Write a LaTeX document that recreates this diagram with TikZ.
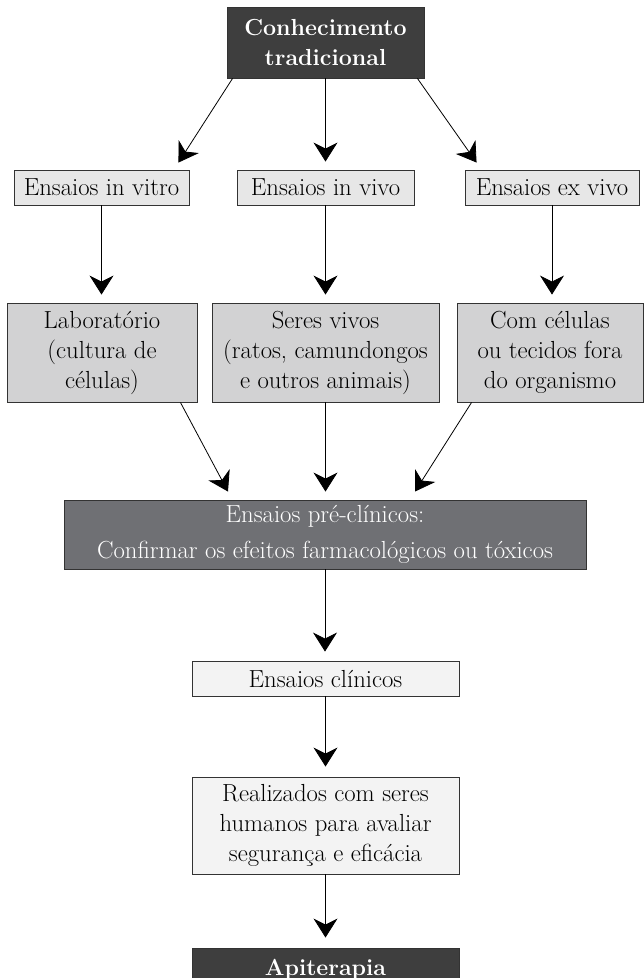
\documentclass[tikz,border=0pt]{standalone}
\usepackage{fontspec}
\usetikzlibrary{arrows.meta}
\definecolor{DarkBox}{HTML}{3E3E3E}
\definecolor{MidBox}{HTML}{6F7074}
\definecolor{PaleBox}{HTML}{E7E7E7}
\definecolor{GreyBox}{HTML}{D2D2D3}
\definecolor{WhiteBox}{HTML}{F3F3F3}
\definecolor{EdgeGrey}{HTML}{333333}
\tikzset{
    box/.style={draw=EdgeGrey, line width=0.9pt, inner sep=0pt, align=center,
        font=\fontsize{24.7}{30}\selectfont},
    darkbox/.style={box, fill=DarkBox, text=white, font=\fontsize{23.2}{30}\selectfont\bfseries},
    midbox/.style={box, fill=MidBox, text=white, font=\fontsize{24.7}{36}\selectfont},
    palebox/.style={box, fill=PaleBox},
    greybox/.style={box, fill=GreyBox},
    whitebox/.style={box, fill=WhiteBox},
    seta/.style={line width=0.8pt, -{Stealth[length=19pt,width=24pt,inset=6pt]}}
}

\begin{document}
\begin{tikzpicture}[x=1pt, y=-1pt]
        \useasboundingbox (0, 0) rectangle (644, 978);
        \clip (0, 0) rectangle (644, 978);

        \node[darkbox, minimum width=197pt, minimum height=71pt] (trad) at (325.5, 42.5) {Conhecimento\\tradicional};

        \node[palebox, minimum width=175pt, minimum height=35pt] (vitro) at (101.5, 187.5) {Ensaios in vitro};
        \node[palebox, minimum width=177pt, minimum height=35pt] (vivo) at (325.5, 187.5) {Ensaios in vivo};
        \node[palebox, minimum width=174pt, minimum height=35pt] (exvivo) at (552, 187.5) {Ensaios ex vivo};

        \node[greybox, minimum width=190pt, minimum height=99pt] (lab) at (102, 352.5) {Laboratório\\(cultura de\\células)};
        \node[greybox, minimum width=227pt, minimum height=99pt] (seres) at (325.5, 352.5) {Seres vivos\\(ratos, camundongos\\e outros animais)};
        \node[greybox, minimum width=186pt, minimum height=99pt] (celulas) at (550, 352.5) {Com células\\ou tecidos fora\\do organismo};

        \node[midbox, minimum width=522pt, minimum height=69pt] (pre) at (325, 534.5) {Ensaios pré-clínicos:\\Confirmar os efeitos farmacológicos ou tóxicos};

        \node[whitebox, minimum width=267pt, minimum height=35pt] (clin) at (325.5, 678.5) {Ensaios clínicos};
        \node[whitebox, minimum width=267pt, minimum height=97pt] (real) at (325.5, 825.5) {Realizados com seres\\humanos para avaliar\\segurança e eficácia};
        \node[darkbox, minimum width=267pt, minimum height=38pt, text depth=0pt] (api) at (325.5, 967) {Apiterapia};

        % conhecimento -> ensaios
        \draw[seta] ([xshift=6pt]trad.south west) -- ([xshift=-11pt,yshift=7pt]vitro.north east);
        \draw[seta, shorten >=8pt] (trad.south) -- (vivo.north);
        \draw[seta] ([xshift=-7pt]trad.south east) -- ([xshift=12pt,yshift=7pt]exvivo.north west);

        \draw[seta, shorten >=8pt] (vitro.south) -- (lab.north -| vitro.south);
        \draw[seta, shorten >=8pt] (vivo.south) -- (seres.north);
        \draw[seta, shorten >=8pt] (exvivo.south) -- (celulas.north -| exvivo.south);

        % para os ensaios pre-clinicos
        \draw[seta] ([xshift=-17pt]lab.south east) -- ([xshift=-97pt,yshift=8pt]pre.north);
        \draw[seta, shorten >=8pt] (seres.south) -- (pre.north -| seres.south);
        \draw[seta] ([xshift=15pt]celulas.south west) -- ([xshift=90pt,yshift=8pt]pre.north);

        \draw[seta, shorten >=9pt] (pre.south) -- (clin.north -| pre.south);
        \draw[seta, shorten >=10pt] (clin.south) -- (real.north);
        \draw[seta, shorten >=10pt] (real.south) -- (api.north);
    \end{tikzpicture}
\end{document}
